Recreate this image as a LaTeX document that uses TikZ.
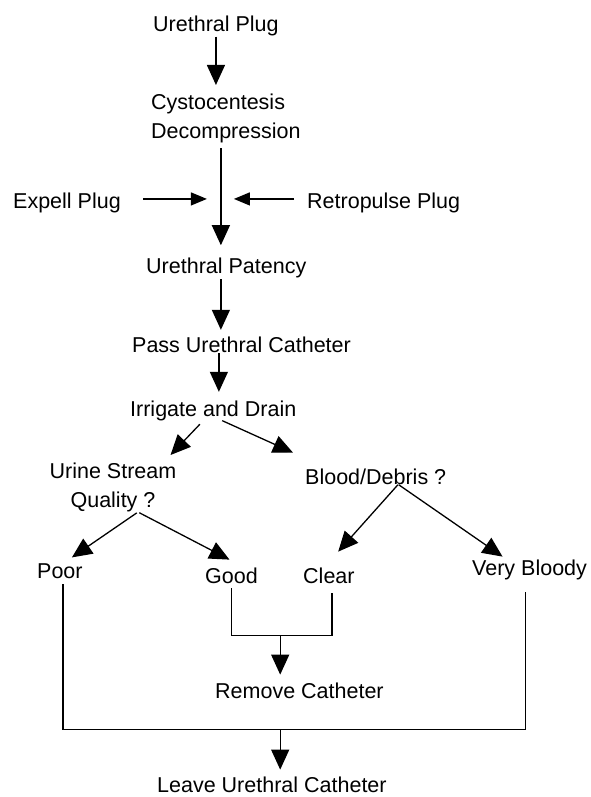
\documentclass[tikz,border=0pt]{standalone}
\usepackage{fontspec}
\setmainfont{Liberation Sans}
\usetikzlibrary{arrows.meta,calc}

\tikzset{
  lbl/.style={inner sep=0pt, anchor=base west, font=\fontsize{21.5}{29}\selectfont},
  ln/.style={line width=1.3pt},
  arr/.style={ln, -{Triangle[length=20pt,width=18pt]}},
  sarr/.style={ln, -{Triangle[length=16pt,width=13pt]}},
}

\begin{document}
\begin{tikzpicture}[x=1pt,y=-1pt]
  \useasboundingbox (0,0) rectangle (590,797);

  \node[lbl] (plug) at (153,32) {Urethral Plug};
  \node[lbl, align=left, anchor=north west] (cysto) at (151,93.5) {Cystocentesis\\Decompression};
  \node[lbl] (expell) at (13,208) {Expell Plug};
  \node[lbl] (retro) at (307,208) {Retropulse Plug};
  \node[lbl] (patency) at (146,273) {Urethral Patency};
  \node[lbl] (pass) at (132,352) {Pass Urethral Catheter};
  \node[lbl] (irrigate) at (130,416) {Irrigate and Drain};
  \node[lbl, align=center, anchor=north] (urine) at (113,462.6) {Urine Stream\\Quality ?};
  \node[lbl] (blood) at (305,484) {Blood/Debris ?};
  \node[lbl] (poor) at (37,578) {Poor};
  \node[lbl] (good) at (205,583) {Good};
  \node[lbl] (clear) at (303,583) {Clear};
  \node[lbl] (bloody) at (472,575) {Very Bloody};
  \node[lbl] (remove) at (215,698) {Remove Catheter};
  \node[lbl] (leave) at (157,792) {Leave Urethral Catheter};

  \coordinate (spine) at ([xshift=-5pt]cysto.south); % main line

  \draw[arr, shorten >=8.5pt] (plug.south) -- (plug.south |- cysto.north);
  \draw[arr, shorten <=5.5pt, shorten >=12pt] (spine) -- (spine |- patency.north);
  \draw[sarr, shorten <=22.5pt, shorten >=14pt] ([yshift=3.5pt]expell.east) -- ([yshift=3.5pt]expell.east -| spine); % expell
  \draw[sarr, shorten <=13pt, shorten >=13pt] ([yshift=3.5pt]retro.west) -- ([yshift=3.5pt]retro.west -| spine); % retropulse
  \draw[arr, shorten <=1.5pt, shorten >=6.4pt] (spine |- patency.south) -- (spine |- pass.north);
  \draw[arr, shorten <=1pt, shorten >=8.4pt] ([xshift=-2pt]spine |- pass.south) -- ([xshift=-2pt]spine |- irrigate.north);

  % irrigate and drain
  \draw[arr, shorten <=5pt] ([xshift=-10pt]irrigate.south) -- ([xshift=-6pt,yshift=7.6pt]urine.north east);
  \draw[arr] ([xshift=9pt]irrigate.south) -- ([xshift=-12pt,yshift=15.6pt]blood.north west);

  % urine stream
  \draw[arr, shorten <=1.5pt] ([xshift=25pt]urine.south) -- ([xshift=12pt,yshift=5.6pt]poor.north);
  \draw[arr, shorten <=1.5pt] ([xshift=25pt]urine.south) -- ([xshift=-2pt,yshift=7.6pt]good.north);

  % blood / debris
  \draw[arr, shorten <=0.5pt] ([xshift=22.5pt]blood.south) -- ([xshift=9.3pt,yshift=15.6pt]clear.north);
  \draw[arr, shorten <=0.5pt] ([xshift=22.5pt]blood.south) -- ([xshift=-27pt,yshift=2.6pt]bloody.north);

  % remove
  \coordinate (okbar) at ([yshift=-52pt]good.south);
  \draw[ln] ([yshift=-5pt]good.south) -- (okbar) -| ([xshift=3pt,yshift=-10pt]clear.south);
  \draw[arr, shorten >=7.6pt] ($(okbar)!0.5!(okbar -| clear.south)$) coordinate (okmid) -- (okmid |- remove.north);

  % leave
  \coordinate (badbar) at ([xshift=3pt,yshift=-151pt]poor.south);
  \draw[ln] ([xshift=3pt,yshift=-6pt]poor.south) -- (badbar) -| ([xshift=-4pt,yshift=-12.5pt]bloody.south);
  \draw[arr, shorten >=6.6pt] (okmid |- badbar) -- (okmid |- leave.north);

\end{tikzpicture}
\end{document}
